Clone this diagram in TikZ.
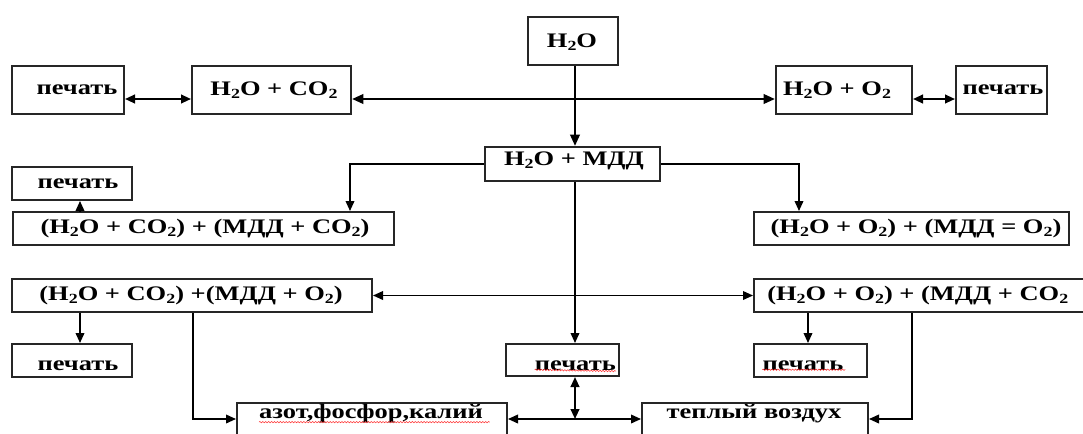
\documentclass[tikz,border=0pt]{standalone}
\usepackage{fontspec}
\setmainfont{Liberation Serif}[FakeStretch=1.28]
\usetikzlibrary{arrows.meta,fit,decorations.pathmorphing}
\newcommand{\tw}{\raisebox{-0.12em}{\fontsize{10.5pt}{10pt}\selectfont 2}}
\tikzset{
  box/.style={draw=black!85, line width=1.5pt, inner sep=0pt, fill=white},
  txt/.style={inner sep=0pt, font=\fontsize{15.5pt}{18pt}\selectfont\bfseries},
  thk/.style={line width=1.9pt, {Triangle[length=8.5pt,width=7pt]}-{Triangle[length=8.5pt,width=7pt]}},
  thkone/.style={line width=1.9pt, -{Triangle[length=8.5pt,width=7pt]}},
  med/.style={line width=1.5pt, {Triangle[length=7.5pt,width=6.5pt]}-{Triangle[length=7.5pt,width=6.5pt]}},
  thn/.style={line width=1.15pt, -{Triangle[length=7.5pt,width=6.5pt]}},
  thnb/.style={line width=1.15pt, {Triangle[length=7.5pt,width=6.5pt]}-{Triangle[length=7.5pt,width=6.5pt]}},
  squig/.style={red!80, line width=0.4pt, decorate, decoration={snake, amplitude=0.5pt, segment length=2.2pt}}
}
\begin{document}
\begin{tikzpicture}[x=0.75pt, y=-0.75pt]
\useasboundingbox (0,0) rectangle (1083,433);
% helper coordinates
\coordinate (r2) at (0,99);
\coordinate (r7) at (0,419);
\coordinate (x80) at (80,0);
\coordinate (x193) at (193,0);
\coordinate (x350) at (350,0);
\coordinate (x575) at (575,0);
\coordinate (x799) at (799,0);
\coordinate (x808) at (808,0);
\coordinate (x912) at (912,0);
% boxes
\node[box, fit={(528,17)(618,65)}] (w) {};
\node[box, fit={(12,66)(124,114)}] (p1) {};
\node[box, fit={(192,66)(351,114)}] (a) {};
\node[box, fit={(776,66)(912,114)}] (b) {};
\node[box, fit={(956,66)(1047,114)}] (p2) {};
\node[box, fit={(485,147)(660,181)}] (m) {};
\node[box, fit={(12,167)(132,200)}] (p3) {};
\node[box, fit={(13,212)(394,245)}] (c) {};
\node[box, fit={(754,212)(1069,245)}] (d) {};
\node[box, fit={(12,279)(372,312)}] (e) {};
\node[box, fit={(754,279)(1110,312)}] (f) {};
\node[box, fit={(12,344)(132,377)}] (p4) {};
\node[box, fit={(506,344)(619,376)}] (p5) {};
\node[box, fit={(754,344)(867,377)}] (p6) {};
\node[box, fit={(237,403)(507,450)}] (g) {};
\node[box, fit={(642,403)(868,450)}] (warm) {};
% texts
\node[txt] (tw) at (572,42) {H\tw O};
\node[txt] (tp1) at (77,90) {печать};
\node[txt] (ta) at (274,90) {H\tw O + CO\tw};
\node[txt] (tb) at (837,90) {H\tw O + O\tw};
\node[txt] (tp2) at (1003,90) {печать};
\node[txt] (tm) at (574,161) {H\tw O + МДД};
\node[txt] (tp3) at (78,184) {печать};
\node[txt] (tc) at (205,229) {(H\tw O + CO\tw) + (МДД + CO\tw)};
\node[txt] (td) at (916,229) {(H\tw O + O\tw) + (МДД = O\tw)};
\node[txt] (te) at (191,296) {(H\tw O + CO\tw) +(МДД + O\tw)};
\node[txt, anchor=west] (tf) at (767,296) {(H\tw O + O\tw) + (МДД + CO\tw};
\node[txt] (tp4) at (78,366) {печать};
\node[txt, anchor=east] (tp5) at (616,366) {печать};
\node[txt] (tp6) at (803,366) {печать};
\node[txt] (tg) at (371,414) {азот,фосфор,калий};
\node[txt] (twarm) at (754,414) {теплый воздух};
% spell-check squiggles
\draw[squig] (tg.south west) ++(0,-1.5) -- ++(231,0);
\draw[squig] (tp5.south west) ++(0,-1.5) -- (tp5.south east);
\draw[squig] (tp6.south west) ++(0,-1.5) -- ++(83,0);
% connectors
\draw[thkone] (w.south -| x575) -- (m.north -| x575);
\draw[thk] (a.east |- r2) -- (b.west |- r2);
\draw[med] (p1.east |- r2) -- (a.west |- r2);
\draw[med] (b.east |- r2) -- (p2.west |- r2);
\draw[thn] (m.west) -| (c.north -| x350);
\draw[thn] (m.east) -| (d.north -| x799);
\draw[thn] (c.north -| x80) -- (p3.south -| x80);
\draw[thnb] (e.east) -- (e.east -| f.west);
\draw[thn] (m.south -| x575) -- (p5.north -| x575);
\draw[thn] (e.south -| x80) -- (p4.north -| x80);
\draw[thn] (f.south -| x808) -- (p6.north -| x808);
\draw[thn] (e.south -| x193) |- (g.west |- r7);
\draw[thn] (f.south -| x912) |- (warm.east |- r7);
\draw[thnb] (g.east |- r7) -- (warm.west |- r7);
\draw[med] (p5.south -| x575) -- (x575 |- r7);
\end{tikzpicture}
\end{document}
